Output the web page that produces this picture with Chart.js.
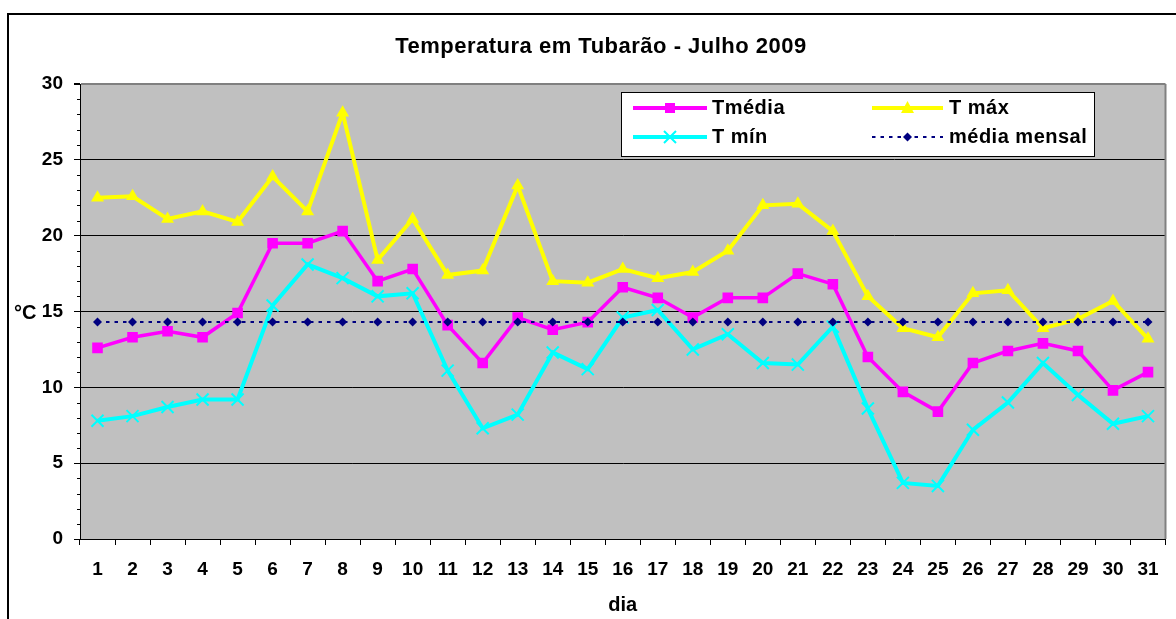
<!DOCTYPE html>
<html>
<head>
<meta charset="utf-8">
<script src="https://cdn.jsdelivr.net/npm/chart.js@4.4.1/dist/chart.umd.min.js"></script>
<style>
    html, body { margin: 0; padding: 0; background: #fff; }
    canvas { display: block; }
</style>
</head>
<body>
<canvas id="tempChart" width="1176" height="619"></canvas>
<script>
// Dados - Temperatura em Tubarão, Julho 2009
const dias = ['1', '2', '3', '4', '5', '6', '7', '8', '9', '10', '11', '12', '13', '14', '15', '16',
    '17', '18', '19', '20', '21', '22', '23', '24', '25', '26', '27', '28', '29', '30', '31'];
const tMedia = [12.6, 13.3, 13.7, 13.3, 14.9, 19.5, 19.5, 20.3, 17.0, 17.8, 14.1, 11.6, 14.6, 13.8, 14.3, 16.6,
    15.9, 14.6, 15.9, 15.9, 17.5, 16.8, 12.0, 9.7, 8.4, 11.6, 12.4, 12.9, 12.4, 9.8, 11.0];
const tMax = [22.5, 22.6, 21.1, 21.6, 20.9, 23.9, 21.6, 28.1, 18.4, 21.1, 17.4, 17.7, 23.3, 17.0, 16.9, 17.8,
    17.2, 17.6, 19.0, 22.0, 22.1, 20.3, 16.0, 13.9, 13.3, 16.2, 16.4, 13.9, 14.5, 15.7, 13.2];
const tMin = [7.8, 8.1, 8.7, 9.2, 9.2, 15.4, 18.1, 17.2, 16.0, 16.2, 11.1, 7.3, 8.2, 12.3, 11.2, 14.6,
    15.1, 12.5, 13.5, 11.6, 11.5, 14.0, 8.6, 3.7, 3.5, 7.2, 9.0, 11.6, 9.5, 7.6, 8.1];
const mediaMensal = [14.3, 14.3, 14.3, 14.3, 14.3, 14.3, 14.3, 14.3, 14.3, 14.3, 14.3, 14.3, 14.3, 14.3, 14.3, 14.3,
    14.3, 14.3, 14.3, 14.3, 14.3, 14.3, 14.3, 14.3, 14.3, 14.3, 14.3, 14.3, 14.3, 14.3, 14.3];
const yTicks = [0, 5, 10, 15, 20, 25, 30];

const FONTE = "'Liberation Sans', Arial, sans-serif";

// fundo cinza, moldura, titulo, legenda
const moldura = {
    id: 'moldura',
    beforeDraw(chart) {
        const { ctx, chartArea: a } = chart;
        ctx.save();
        ctx.fillStyle = '#fff';
        ctx.fillRect(0, 0, chart.width, chart.height);
        ctx.fillStyle = '#c0c0c0';
        ctx.fillRect(a.left, a.top, a.right - a.left, a.bottom - a.top);
        ctx.strokeStyle = '#000';
        ctx.lineWidth = 2;
        ctx.beginPath();
        ctx.moveTo(8, chart.height);
        ctx.lineTo(8, 14);
        ctx.lineTo(chart.width, 14);
        ctx.stroke();
        ctx.restore();
    },
    afterDraw(chart) {
        const { ctx, chartArea: a } = chart;
        const y = chart.scales.y;
        ctx.save();

        // borda direita da area
        ctx.strokeStyle = '#808080';
        ctx.lineWidth = 2;
        ctx.beginPath();
        ctx.moveTo(a.right, a.top);
        ctx.lineTo(a.right, a.bottom);
        ctx.stroke();

        // marcas menores no eixo y
        ctx.strokeStyle = '#000';
        ctx.lineWidth = 1;
        for (let v = 1; v < 30; v++) {
            if (v % 5 === 0) continue;
            const py = Math.round(y.getPixelForValue(v)) + 0.5;
            ctx.beginPath();
            ctx.moveTo(a.left - 3, py);
            ctx.lineTo(a.left, py);
            ctx.stroke();
        }

        // titulo
        ctx.fillStyle = '#000';
        ctx.font = 'bold 22px ' + FONTE;
        ctx.textAlign = 'center';
        ctx.textBaseline = 'alphabetic';
        ctx.letterSpacing = '0.5px';
        ctx.fillText('Temperatura em Tubarão - Julho 2009', 601, 53);
        ctx.letterSpacing = '0px';

        // unidade
        ctx.font = 'bold 20px ' + FONTE;
        ctx.textAlign = 'left';
        ctx.fillText('°C', 14, 319);

        // legenda
        ctx.fillStyle = '#fff';
        ctx.fillRect(621, 92, 474, 65);
        ctx.strokeStyle = '#000';
        ctx.lineWidth = 1;
        ctx.strokeRect(621.5, 92.5, 473, 64);

        amostra(ctx, 633, 707, 108, '#ff00ff', 4, [], 'quadrado', 'Tmédia', 712, 114);
        amostra(ctx, 872, 943, 108, '#ffff00', 4, [], 'triangulo', 'T máx', 949, 114);
        amostra(ctx, 633, 707, 137, '#00ffff', 4, [], 'xis', 'T mín', 712, 143);
        amostra(ctx, 872, 943, 137, '#000080', 2, [3.5, 5], 'losango', 'média mensal', 949, 143);

        ctx.restore();
    }
};

function amostra(ctx, x1, x2, y, cor, largura, dash, marca, texto, tx, ty) {
    ctx.save();
    ctx.strokeStyle = cor;
    ctx.fillStyle = cor;
    ctx.lineWidth = largura;
    ctx.setLineDash(dash);
    ctx.beginPath();
    ctx.moveTo(x1, y);
    ctx.lineTo(x2, y);
    ctx.stroke();
    ctx.setLineDash([]);
    const cx = (x1 + x2) / 2;
    ctx.beginPath();
    if (marca === 'quadrado') {
        ctx.fillRect(cx - 5, y - 5, 10, 10);
    } else if (marca === 'triangulo') {
        ctx.moveTo(cx, y - 7);
        ctx.lineTo(cx + 6.5, y + 5);
        ctx.lineTo(cx - 6.5, y + 5);
        ctx.closePath();
        ctx.fill();
    } else if (marca === 'xis') {
        ctx.lineWidth = 2;
        ctx.moveTo(cx - 6, y - 6);
        ctx.lineTo(cx + 6, y + 6);
        ctx.moveTo(cx + 6, y - 6);
        ctx.lineTo(cx - 6, y + 6);
        ctx.stroke();
    } else {
        ctx.moveTo(cx, y - 4.5);
        ctx.lineTo(cx + 4.5, y);
        ctx.lineTo(cx, y + 4.5);
        ctx.lineTo(cx - 4.5, y);
        ctx.closePath();
        ctx.fill();
    }
    ctx.fillStyle = '#000';
    ctx.font = 'bold 20px ' + FONTE;
    ctx.textAlign = 'left';
    ctx.textBaseline = 'alphabetic';
    ctx.letterSpacing = '0.5px';
    ctx.fillText(texto, tx, ty);
    ctx.restore();
}

const ctx = document.getElementById('tempChart').getContext('2d');
const chartConfig = {
    type: 'line',
    data: {
        labels: dias,
        datasets: [{
            label: 'média mensal',
            data: mediaMensal,
            borderColor: '#000080',
            backgroundColor: '#000080',
            borderWidth: 2,
            borderDash: [3.5, 5],
            pointStyle: 'rectRot',
            pointRadius: 4.5,
            pointBorderWidth: 0,
            order: 0
        }, {
            label: 'Tmédia',
            data: tMedia,
            borderColor: '#ff00ff',
            backgroundColor: '#ff00ff',
            borderWidth: 3.5,
            pointStyle: 'rect',
            pointRadius: 7.5,
            pointBorderWidth: 0,
            order: 1
        }, {
            label: 'T mín',
            data: tMin,
            borderColor: '#00ffff',
            backgroundColor: '#00ffff',
            borderWidth: 4,
            pointStyle: 'crossRot',
            pointRadius: 8.5,
            pointBorderWidth: 2,
            order: 2
        }, {
            label: 'T máx',
            data: tMax,
            borderColor: '#ffff00',
            backgroundColor: '#ffff00',
            borderWidth: 4,
            pointStyle: 'triangle',
            pointRadius: 7.5,
            pointBorderWidth: 0,
            order: 3
        }]
    },
    options: {
        responsive: false,
        animation: false,
        devicePixelRatio: 1,
        layout: { padding: { top: 84, right: 8, left: 0, bottom: 0 } },
        elements: { line: { tension: 0 } },
        plugins: {
            legend: { display: false },
            title: { display: false },
            tooltip: { enabled: false }
        },
        scales: {
            x: {
                offset: true,
                grid: {
                    offset: true,
                    drawOnChartArea: false,
                    drawTicks: true,
                    tickLength: 6,
                    tickColor: '#000'
                },
                border: { color: '#000', width: 1 },
                ticks: {
                    color: '#000',
                    padding: 13,
                    maxRotation: 0,
                    autoSkip: false,
                    font: { family: FONTE, size: 19, weight: 'bold' }
                },
                title: {
                    display: true,
                    text: 'dia',
                    color: '#000',
                    padding: { top: 0, bottom: 2 },
                    font: { family: FONTE, size: 20, weight: 'bold' }
                },
                afterFit: function (scale) { scale.height = 80; }
            },
            y: {
                min: 0,
                max: 30,
                afterBuildTicks: function (scale) {
                    scale.ticks = yTicks.map(v => ({ value: v }));
                },
                grid: {
                    color: c => (c.tick && c.tick.value === 30) ? '#808080' : '#000',
                    lineWidth: c => (c.tick && c.tick.value === 30) ? 2 : 1,
                    tickLength: 6,
                    tickColor: '#000'
                },
                border: { color: '#000', width: 1 },
                ticks: {
                    color: '#000',
                    padding: 11,
                    font: { family: FONTE, size: 19, weight: 'bold' }
                },
                afterFit: function (scale) { scale.width = 80; }
            }
        }
    },
    plugins: [moldura]
};

const tempChart = new Chart(ctx, chartConfig);
</script>
</body>
</html>
